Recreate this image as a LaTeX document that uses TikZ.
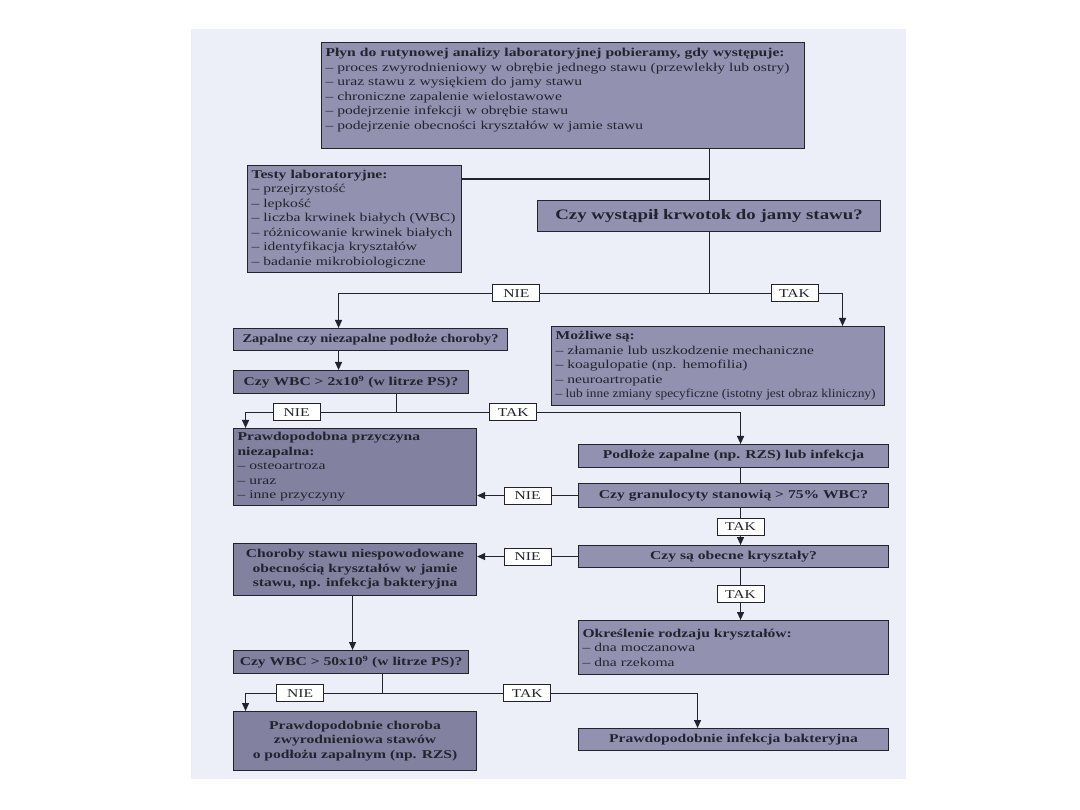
\documentclass[tikz,border=0pt]{standalone}
\usepackage{fontspec}
\usepackage{graphicx}
\setmainfont{Liberation Serif}[FakeStretch=1.3]
\usetikzlibrary{arrows.meta,positioning,calc}
\definecolor{panel}{RGB}{236,239,248}
\definecolor{fillA}{RGB}{146,146,176}
\definecolor{fillB}{RGB}{130,130,160}
\definecolor{ink}{RGB}{35,35,48}
\newcommand\boxfont{\fontsize{12}{14.5}\selectfont}
\newcommand\bigqfont{\fontsize{14.5}{16}\selectfont\bfseries}
\newcommand\fitline[2]{\resizebox{#1}{\height}{#2}}
\tikzset{
  base/.style={draw=ink,line width=1.1pt,text=ink,font=\boxfont,inner xsep=4pt,inner ysep=2pt,anchor=north west},
  lst/.style={base,fill=fillA,align=left},
  qst/.style={base,fill=fillA,align=center,font=\boxfont\bfseries},
  dark/.style={fill=fillB},
  lbl/.style={draw=ink,fill=white,line width=0.8pt,font=\boxfont,text=ink,inner sep=1.5pt,minimum width=47pt,minimum height=17pt},
  arr/.style={-{Triangle[length=8pt,width=7pt]}},
  wire/.style={draw=ink,line width=1.1pt}
}

\begin{document}
\begin{tikzpicture}[x=1pt,y=-1pt]
\fill[white] (0,0) rectangle (1080,810);
\useasboundingbox (0,0) rectangle (1080,810);
\fill[panel] (191,29) rectangle (906,779);

% boxes
\node[lst,text width=475pt,minimum height=106pt] (start) at (321,42) {\textbf{Płyn do rutynowej analizy laboratoryjnej pobieramy, gdy występuje:}\\
-- proces zwyrodnieniowy w obrębie jednego stawu (przewlekły lub ostry)\\
-- uraz stawu z wysiękiem do jamy stawu\\
-- chroniczne zapalenie wielostawowe\\
-- podejrzenie infekcji w obrębie stawu\\
-- podejrzenie obecności kryształów w jamie stawu\rule[-13pt]{0pt}{13pt}};
\node[lst,text width=206pt,minimum height=107pt] (tests) at (247,165) {\textbf{Testy laboratoryjne:}\\
-- przejrzystość\\
-- lepkość\\
-- liczba krwinek białych (WBC)\\
-- różnicowanie krwinek białych\\
-- identyfikacja kryształów\\
-- badanie mikrobiologiczne};
\node[qst,font=\bigqfont,minimum width=343pt,minimum height=31pt] (bleed) at (537,200) {Czy wystąpił krwotok do jamy stawu?};
\node[qst,minimum width=274pt,minimum height=22pt] (inflam) at (233,328) {\fitline{256pt}{Zapalne czy niezapalne podłoże choroby?}};
\node[qst,dark,minimum width=235pt,minimum height=23pt] (wbcA) at (233,370) {Czy WBC > 2x10\textsuperscript{9} (w litrze PS)?};
\node[lst,text width=325pt,minimum height=79pt] (maybe) at (551,326) {\textbf{Możliwe są:}\\
-- złamanie lub uszkodzenie mechaniczne\\
-- koagulopatie (np. hemofilia)\\
-- neuroartropatie\\
\fitline{320pt}{-- lub inne zmiany specyficzne (istotny jest obraz kliniczny)}};
\node[lst,dark,text width=235pt,minimum height=77pt] (noninf) at (233,428) {\textbf{Prawdopodobna przyczyna}\\
\textbf{niezapalna:}\\
-- osteoartroza\\
-- uraz\\
-- inne przyczyny};
\node[qst,minimum width=310pt,minimum height=23pt] (basis) at (578,444) {Podłoże zapalne (np. RZS) lub infekcja};
\node[qst,minimum width=310pt,minimum height=24pt] (gran) at (578,483) {Czy granulocyty stanowią > 75\% WBC?};
\node[qst,minimum width=310pt,minimum height=22pt] (cryst) at (578,545) {Czy są obecne kryształy?};
\node[qst,dark,minimum width=243pt,minimum height=52pt] (nocryst) at (233,543) {Choroby stawu niespowodowane\\ obecnością kryształów w jamie\\ stawu, np. infekcja bakteryjna};
\node[lst,text width=302pt,minimum height=54pt] (kind) at (578,620) {\textbf{Określenie rodzaju kryształów:}\\
-- dna moczanowa\\
-- dna rzekoma};
\node[qst,dark,minimum width=235pt,minimum height=23pt] (wbcB) at (233,650) {Czy WBC > 50x10\textsuperscript{9} (w litrze PS)?};
\node[qst,dark,minimum width=243pt,minimum height=59pt] (degen) at (233,711) {Prawdopodobnie choroba\\ zwyrodnieniowa stawów\\ o podłożu zapalnym (np. RZS)};
\node[qst,minimum width=310pt,minimum height=22pt] (bact) at (578,728) {Prawdopodobnie infekcja bakteryjna};

% connectors
\coordinate (j0) at ($(bleed.north)+(0,-21)$);
\draw[wire] (bleed.north |- start.south) -- (bleed.north);
\draw[wire] (tests.east |- j0) -- (j0);
\draw[wire] (bleed.south) -- ++(0,61) coordinate (j1);
\draw[wire,arr] (j1) -| node[lbl,pos=0.26] {NIE} ([xshift=-32pt]inflam.north);
\draw[wire,arr] (j1) -| node[lbl,pos=0.32] {TAK} ([xshift=124.5pt]maybe.north);
\draw[wire,arr] ([xshift=-32pt]inflam.south) -- ([xshift=-32pt]inflam.south |- wbcA.north);
\draw[wire] ([xshift=45pt]wbcA.south) -- ++(0,18) coordinate (j2);
\draw[wire,arr] (j2) -| node[lbl,pos=0.33] {NIE} ([xshift=-109.5pt]noninf.north);
\draw[wire,arr] (j2) -| node[lbl,pos=0.17] {TAK} ([xshift=7pt]basis.north);
\draw[wire] ([xshift=7pt]basis.south) -- ([xshift=7pt]basis.south |- gran.north);
\draw[wire,arr] (gran.west) -- node[lbl] {NIE} (noninf.east |- gran.west);
\draw[wire,arr] ([xshift=7pt]gran.south) -- node[lbl] {TAK} ([xshift=7pt]gran.south |- cryst.north);
\draw[wire,arr] (cryst.west) -- node[lbl] {NIE} (nocryst.east |- cryst.west);
\draw[wire,arr] ([xshift=7pt]cryst.south) -- node[lbl] {TAK} ([xshift=7pt]cryst.south |- kind.north);
\draw[wire,arr] ([xshift=-2.5pt]nocryst.south) -- ([xshift=-2.5pt]nocryst.south |- wbcB.north);
\draw[wire] ([xshift=31pt]wbcB.south) -- ++(0,19) coordinate (j3);
\draw[wire,arr] (j3) -| node[lbl,pos=0.3] {NIE} ([xshift=-109.5pt]degen.north);
\draw[wire,arr] (j3) -| node[lbl,pos=0.23] {TAK} ([xshift=-36pt]bact.north);
\end{tikzpicture}
\end{document}
